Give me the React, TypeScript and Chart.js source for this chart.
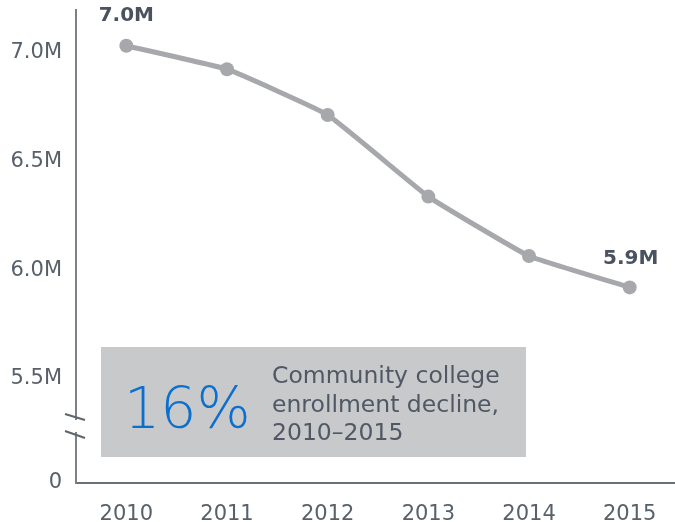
import React, { useEffect, useRef } from "react";
import { Chart, registerables } from "chart.js";

Chart.register(...registerables);

const years = [2010, 2011, 2012, 2013, 2014, 2015];
const enrollment = [7.031, 6.923, 6.713, 6.338, 6.065, 5.921]; // millions
const yTickValues = [5.5, 6.0, 6.5, 7.0];
const yBase = 5.0225; // bottom of the broken axis, labelled "0"
const endLabels = ["7.0M", "5.9M"];
const calloutValue = "16%";
const calloutLines = ["Community college", "enrollment decline,", "2010\u20132015"];

const FONT = "'DejaVu Sans', Verdana, sans-serif";
const GREY = "#a6a8ab";
const TEXT = "#58606a";
const DARK = "#4a5260";
const AXIS = "#7d8187";

const overlayPlugin = {
  id: "overlay",
  afterDatasetsDraw(chart: any) {
    const ctx = chart.ctx;
    const meta = chart.getDatasetMeta(0);
    const pts = meta.data;
    ctx.save();
    // end labels
    ctx.font = `bold 20px ${FONT}`;
    ctx.fillStyle = DARK;
    ctx.textAlign = "center";
    ctx.textBaseline = "middle";
    const first = pts[0];
    const last = pts[pts.length - 1];
    ctx.fillText(endLabels[0], first.x, first.y - 30);
    ctx.fillText(endLabels[1], last.x + 1, last.y - 29);

    // axis break
    const xs = chart.scales.x;
    const ax = xs.left;
    ctx.fillStyle = "#ffffff";
    ctx.fillRect(ax - 3, 420, 6, 12);
    ctx.strokeStyle = "#5f656d";
    ctx.lineWidth = 2;
    ctx.beginPath();
    ctx.moveTo(ax - 11, 414);
    ctx.lineTo(ax + 9, 420);
    ctx.moveTo(ax - 11, 431);
    ctx.lineTo(ax + 9, 438);
    ctx.stroke();

    // callout box
    ctx.fillStyle = "#c8c9cb";
    ctx.fillRect(101, 347, 425, 110);
    ctx.fillStyle = "#0a6fcf";
    ctx.font = `200 57px ${FONT}`;
    ctx.textAlign = "left";
    ctx.textBaseline = "alphabetic";
    ctx.fillText(calloutValue, 124, 428);
    ctx.fillStyle = "#4f5864";
    ctx.font = `23.5px ${FONT}`;
    calloutLines.forEach((l, i) => ctx.fillText(l, 272, 383 + i * 28.5));
    ctx.restore();
  },
};

export default function App() {
  const ref = useRef<HTMLCanvasElement>(null);
  useEffect(() => {
    if (!ref.current) return;
    const chart = new Chart(ref.current, {
      type: "line",
      data: {
        datasets: [
          {
            data: years.map((y, i) => ({ x: y, y: enrollment[i] })),
            borderColor: GREY,
            backgroundColor: GREY,
            borderWidth: 5,
            pointRadius: 7,
            pointBackgroundColor: GREY,
            pointBorderWidth: 0,
            tension: 0.1,
            fill: false,
          },
        ],
      },
      options: {
        responsive: false,
        animation: false,
        layout: { autoPadding: false, padding: { top: 10, right: 0, left: 0, bottom: 0 } },
        plugins: { legend: { display: false }, tooltip: { enabled: false } },
        scales: {
          x: {
            type: "linear",
            min: 2009.5,
            max: 2015.45,
            afterFit: (s: any) => {
              s.height = 39;
              s.paddingLeft = 0;
              s.paddingRight = 0;
            },
            afterBuildTicks: (s: any) => {
              s.ticks = years.map((v) => ({ value: v }));
            },
            grid: { display: false, drawTicks: false },
            border: { display: true, color: "#6b7078", width: 2 },
            ticks: {
              padding: 19,
              color: TEXT,
              font: { family: FONT, size: 21 },
              callback: (v: any) => String(v),
            },
          },
          y: {
            type: "linear",
            min: yBase,
            max: 7.195,
            afterFit: (s: any) => {
              s.width = 76;
              s.paddingTop = 0;
              s.paddingBottom = 0;
            },
            afterBuildTicks: (s: any) => {
              s.ticks = [yBase, ...yTickValues].map((v) => ({ value: v }));
            },
            grid: { display: false, drawTicks: false },
            border: { display: true, color: AXIS, width: 2 },
            ticks: {
              padding: 14,
              color: TEXT,
              font: { family: FONT, size: 21 },
              callback: (v: any) => (v < 5.1 ? "0" : Number(v).toFixed(1) + "M"),
            },
          },
        },
      },
      plugins: [overlayPlugin],
    } as any);
    return () => chart.destroy();
  }, []);
  return (
    <div style={{ position: "absolute", left: 0, top: 0, width: 675, height: 522, background: "#fff" }}>
      <canvas ref={ref} width={675} height={522} style={{ width: 675, height: 522 }} />
    </div>
  );
}
